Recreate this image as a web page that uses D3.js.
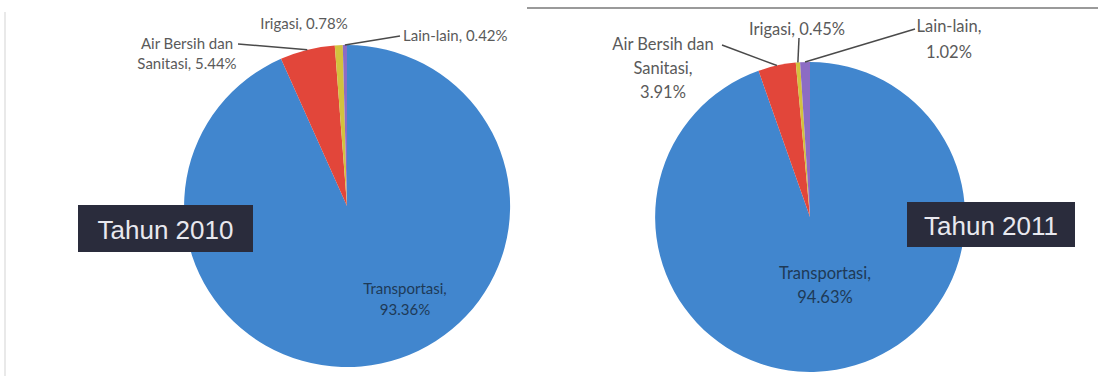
<!DOCTYPE html>
<html><head><meta charset="utf-8">
<script src="https://cdn.jsdelivr.net/npm/d3@7"></script>
<style>
html,body{margin:0;padding:0;background:#fff;}
svg{display:block;}
</style></head>
<body>
<svg id="chart" width="1098" height="376"></svg>
<script>
// ---- data ----
const categories = ["Transportasi", "Air Bersih dan Sanitasi", "Irigasi", "Lain-lain"];
const values2010 = [93.36, 5.44, 0.78, 0.42];
const values2011 = [94.63, 3.91, 0.45, 1.02];
const years = ["Tahun 2010", "Tahun 2011"];
const labels2010 = [["Transportasi,", "93.36%"], ["Air Bersih dan", "Sanitasi, 5.44%"], ["Irigasi, 0.78%"], ["Lain-lain, 0.42%"]];
const labels2011 = [["Transportasi,", "94.63%"], ["Air Bersih dan", "Sanitasi,", "3.91%"], ["Irigasi, 0.45%"], ["Lain-lain,", "1.02%"]];

// ---- style / layout ----
const colors = ["#4186CE", "#E2463A", "#D2C23E", "#8C6CC4"];
const svg = d3.select("#chart");

// frame lines
svg.append("line").attr("x1", 5).attr("x2", 5).attr("y1", 12).attr("y2", 376)
  .attr("stroke", "#e2e2e2").attr("stroke-width", 1.5);
svg.append("line").attr("x1", 527).attr("x2", 1098).attr("y1", 8).attr("y2", 8)
  .attr("stroke", "#9a9a9a").attr("stroke-width", 2);

const charts = [
  { values: values2010, labels: labels2010, year: years[0],
    cx: 347, cy: 206, rx: 163, ry: 161, fs: 15,
    lab: [ {x: 405, y: 288, lh: 21, inside: true},
           {x: 187, y: 43, lh: 20, line: [[238, 44]]},
           {x: 304, y: 23, lh: 20},
           {x: 403, y: 35, lh: 20, anchor: "start", line: [[400, 36]]} ],
    box: {x: 78, y: 205, w: 175, h: 47} },
  { values: values2011, labels: labels2011, year: years[1],
    cx: 810, cy: 217, rx: 155, ry: 155, fs: 16.5,
    lab: [ {x: 825, y: 273, lh: 24, inside: true},
           {x: 663, y: 44, lh: 24, line: [[722, 45]]},
           {x: 797, y: 29, lh: 24, line: [[799, 38]]},
           {x: 949, y: 26, lh: 26, line: [[915, 29]]} ],
    box: {x: 907, y: 202, w: 168, h: 45} }
];

charts.forEach(c => {
  const pie = d3.pie().sort(null).value(d => d).startAngle(0).endAngle(2 * Math.PI);
  const arcs = pie(c.values);
  const arc = d3.arc().innerRadius(0).outerRadius(1);
  const g = svg.append("g").attr("transform", `translate(${c.cx},${c.cy}) scale(${c.rx},${c.ry})`);
  g.selectAll("path").data(arcs).join("path")
    .attr("d", arc)
    .attr("fill", (d, i) => colors[i]);

  const edge = (a) => {
    const m = (a.startAngle + a.endAngle) / 2;
    return [c.cx + c.rx * Math.sin(m), c.cy - c.ry * Math.cos(m)];
  };

  arcs.forEach((a, i) => {
    const L = c.lab[i];
    if (L.line) {
      const p = edge(a);
      svg.append("line")
        .attr("x1", L.line[0][0]).attr("y1", L.line[0][1])
        .attr("x2", p[0]).attr("y2", p[1])
        .attr("stroke", "#4a4a4a").attr("stroke-width", 1.5);
    }
    const t = svg.append("text")
      .attr("x", L.x).attr("y", L.y)
      .attr("text-anchor", L.anchor || "middle")
      .attr("dominant-baseline", "central")
      .attr("font-family", "Lato, 'Open Sans', sans-serif")
      .attr("font-size", c.fs)
      .attr("fill", L.inside ? "#1e3a57" : "#5a5a5a");
    c.labels[i].forEach((s, k) => {
      t.append("tspan").attr("x", L.x).attr("y", L.y + k * L.lh).text(s);
    });
  });

  svg.append("rect").attr("x", c.box.x).attr("y", c.box.y)
    .attr("width", c.box.w).attr("height", c.box.h)
    .attr("fill", "#2a2c3c");
  svg.append("text")
    .attr("x", c.box.x + c.box.w / 2).attr("y", c.box.y + c.box.h / 2 + 1)
    .attr("text-anchor", "middle").attr("dominant-baseline", "central")
    .attr("font-family", "'Liberation Sans', Arial, sans-serif")
    .attr("font-size", 26).attr("fill", "#e8e8ee")
    .text(c.year);
});
</script>
</body></html>
